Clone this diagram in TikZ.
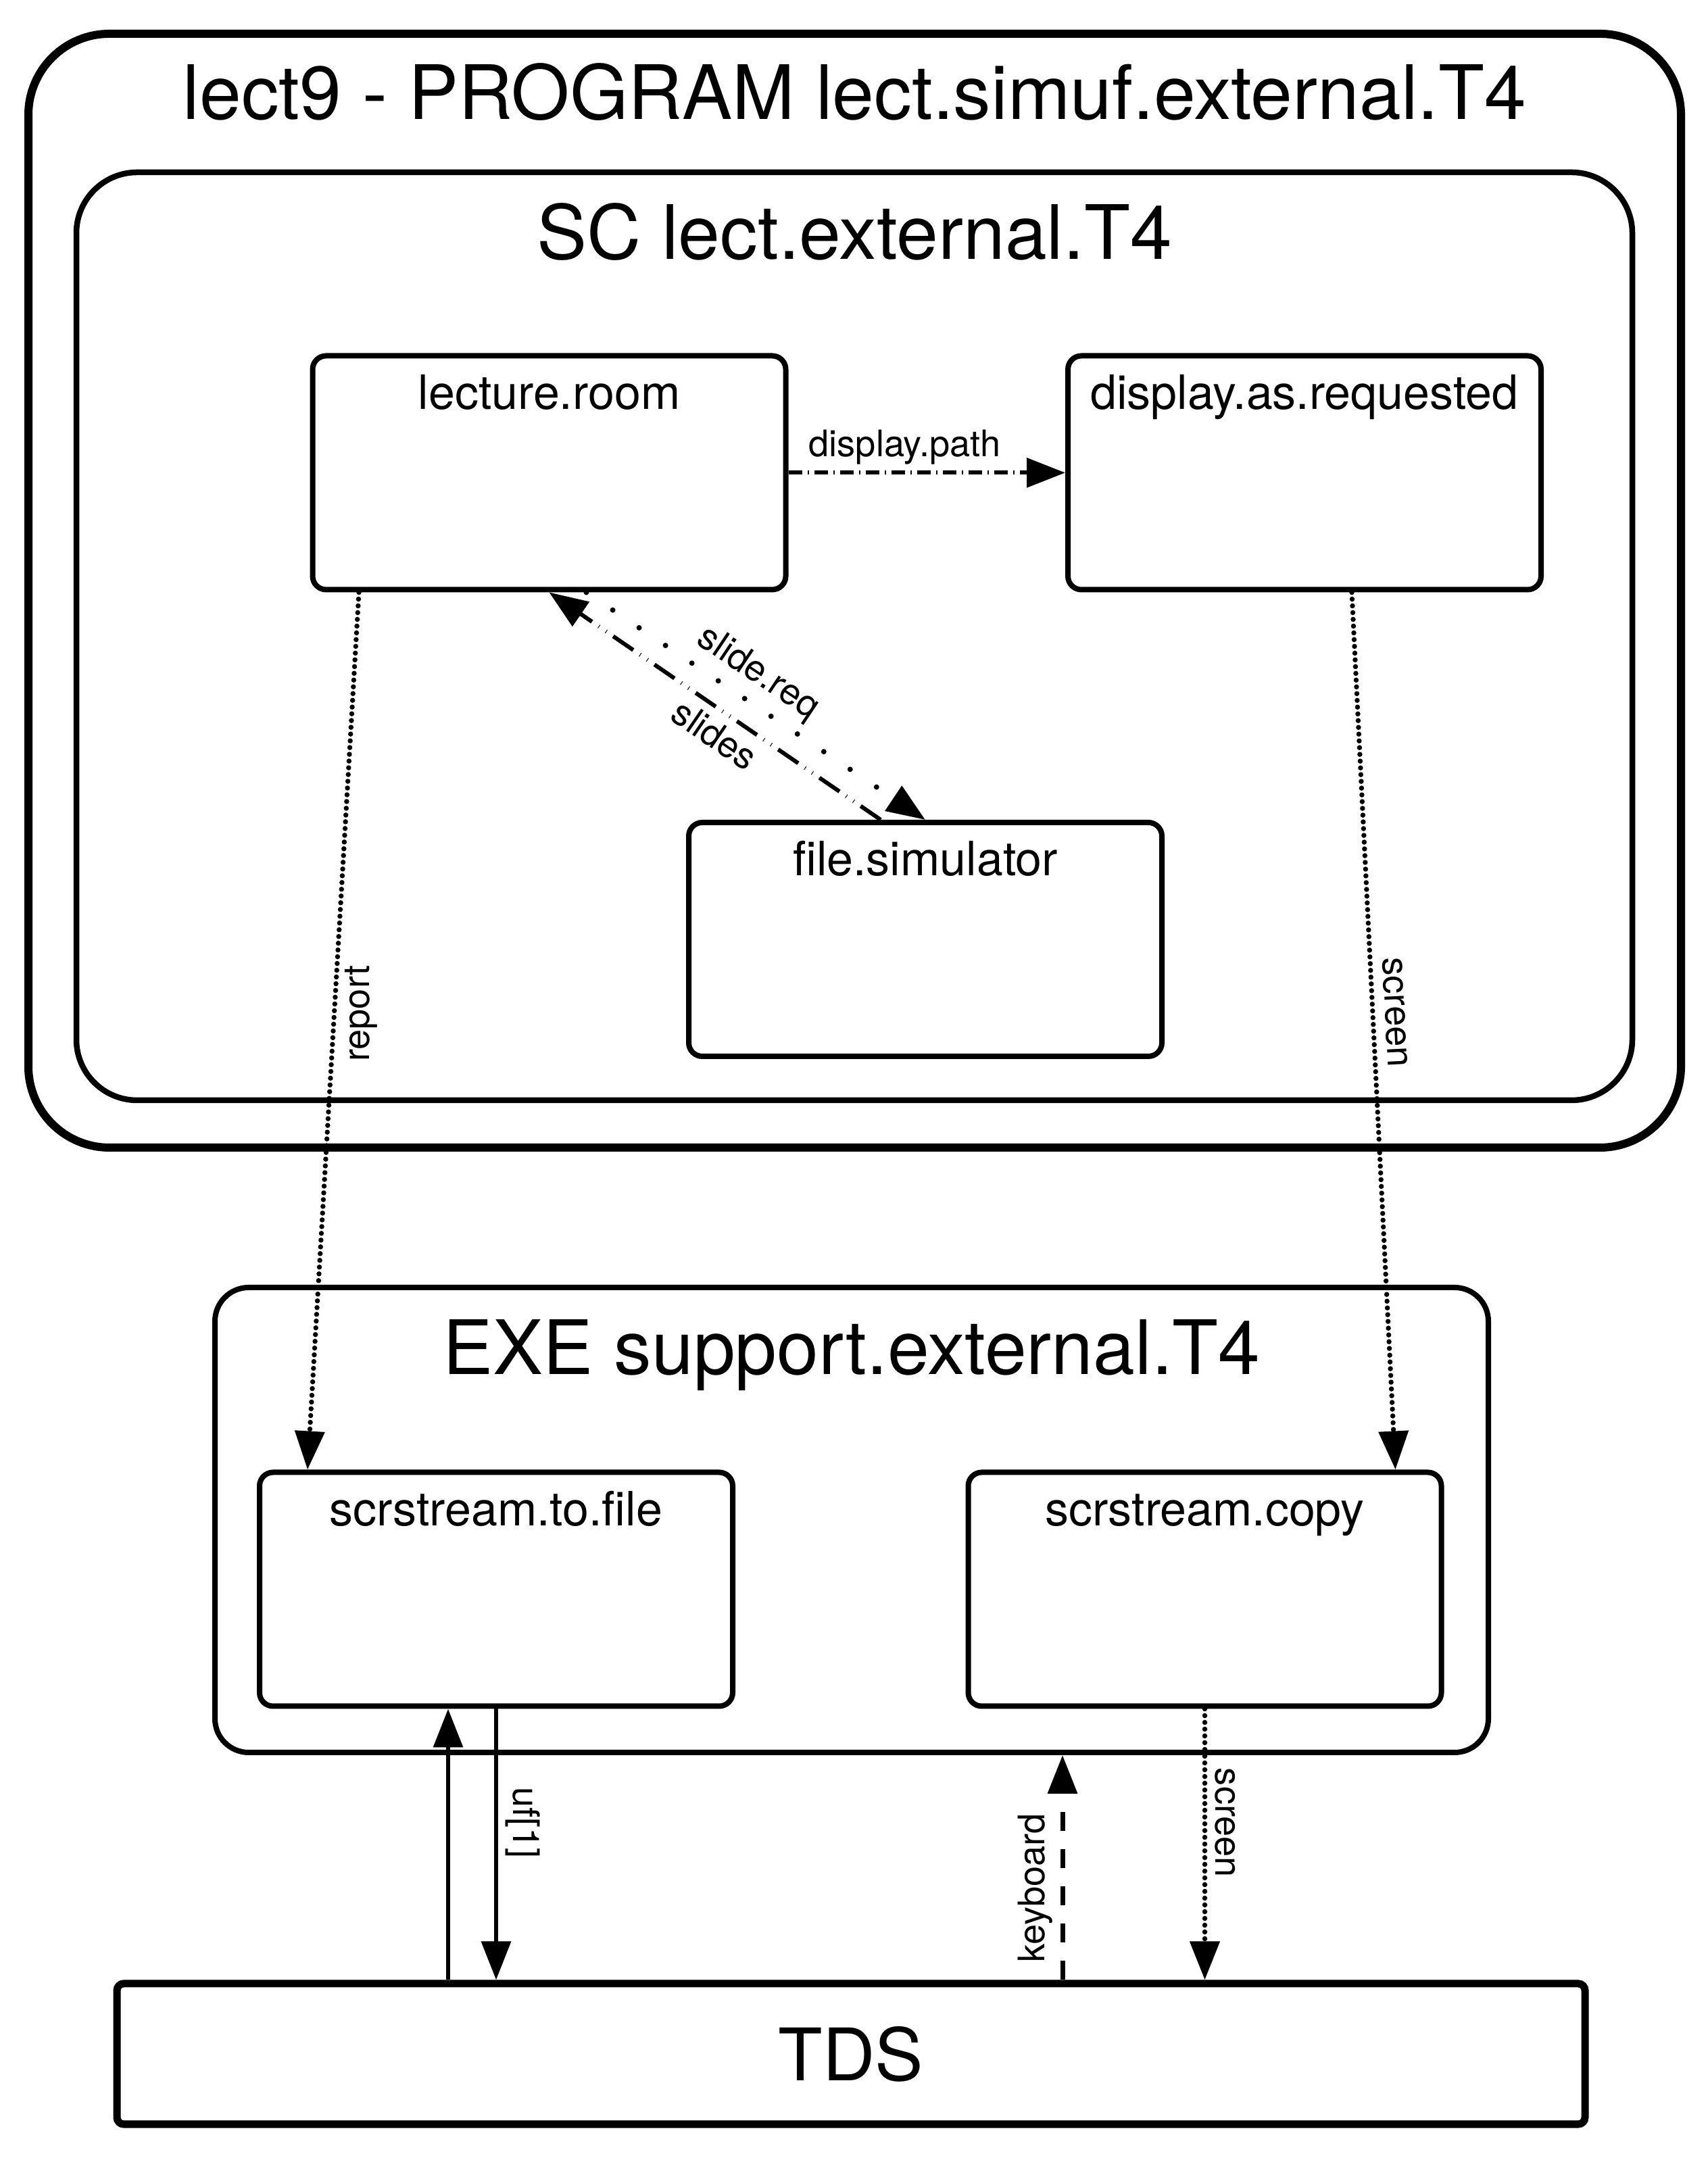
\documentclass[tikz,border=0pt]{standalone}
\usepackage{fontspec}
\setmainfont{TeX Gyre Heros}
\usetikzlibrary{arrows.meta}

\newcommand{\titlefont}{\fontsize{31.6}{36}\selectfont}
\newcommand{\tdsfont}{\fontsize{30.5}{36}\selectfont}
\newcommand{\boxfont}{\fontsize{19.9}{23}\selectfont}
\newcommand{\flowfont}{\fontsize{15.4}{18}\selectfont}

\begin{document}
\begin{tikzpicture}[
        >={Triangle[length=0.57cm,width=0.43cm]},
        procbox/.style={draw, line width=0.08cm, rounded corners=0.2cm,
            minimum width=7cm, minimum height=3.46cm,
            label={[anchor=base, yshift=-0.83cm, font=\boxfont]north:#1}},
        titled/.style={label={[anchor=base, yshift=-1.33cm, font=\titlefont]north:#1}},
        flowline/.style={line width=0.065cm},
        flowdots/.style={line width=0.075cm, line cap=round, dash pattern=on 0pt off 0.1cm},
        flowsparse/.style={line width=0.08cm, line cap=round, dash pattern=on 0pt off 0.47cm},
        flowdashdot/.style={line width=0.06cm, dash pattern=on 0.2cm off 0.08cm on 0.02cm off 0.08cm},
        flowdashdotdot/.style={line width=0.06cm, dash pattern=on 0.36cm off 0.12cm on 0.01cm off 0.12cm on 0.01cm off 0.12cm},
        flowdash/.style={line width=0.07cm, dash pattern=on 0.28cm off 0.27cm},
        flowlabel/.style={font=\flowfont}
    ]
        \useasboundingbox (0,0) rectangle (25.27,31.93);

        % Program frame
        \node[draw, line width=0.12cm, rounded corners=1.2cm, minimum width=24.45cm,
            minimum height=16.48cm, titled={lect9 - PROGRAM lect.simuf.external.T4}]
            (program) at (12.645,23.19) {};

        % SC frame
        \node[draw, line width=0.085cm, rounded corners=0.9cm, minimum width=23.02cm,
            minimum height=13.73cm, titled={SC lect.external.T4}] (sc) at (12.64,22.515) {};

        % EXE frame
        \node[draw, line width=0.08cm, rounded corners=0.5cm, minimum width=18.84cm,
            minimum height=6.88cm, titled={EXE support.external.T4}] (exe) at (12.60,9.44) {};

        % Activities
        \node[procbox=lecture.room] (lecture) at (8.125,24.935) {};
        \node[procbox=display.as.requested] (display) at (19.30,24.935) {};
        \node[procbox=file.simulator] (filesim) at (13.69,18.03) {};
        \node[procbox=scrstream.to.file] (tofile) at (7.34,8.415) {};
        \node[procbox=scrstream.copy] (copy) at (17.825,8.415) {};

        % TDS
        \node[draw, line width=0.11cm, rounded corners=0.1cm, minimum width=21.72cm,
            minimum height=2.08cm, font=\tdsfont] (tds) at (12.59,1.54) {TDS};

        % Flows inside SC
        \draw[flowdashdot, ->] (lecture.east) -- node[flowlabel, above, pos=0.42,
            inner sep=2.5pt] (lbl-path) {display.path} (display.west);
        \draw[flowdashdotdot, ->] ([xshift=-0.66cm]filesim.north) -- node[flowlabel,
            sloped, below, pos=0.46] (lbl-slides) {slides} (lecture.south);
        \draw[flowsparse, ->] ([xshift=0.55cm]lecture.south) -- node[flowlabel,
            sloped, above, pos=0.46] (lbl-req) {slide.req} (filesim.north);

        % Flows SC -> EXE
        \draw[flowdots, ->] ([xshift=-2.815cm]lecture.south) -- node[flowlabel,
            rotate=90, anchor=north, pos=0.48] (lbl-report) {report}
            ([xshift=-2.79cm]tofile.north);
        \draw[flowdots, ->] ([xshift=0.70cm]display.south) -- node[flowlabel,
            sloped, above, pos=0.48, inner sep=4pt] (lbl-screen) {screen}
            ([xshift=2.82cm]copy.north);

        % Flows EXE <-> TDS
        \coordinate (tofile-in) at ([xshift=-0.71cm]tofile.south);
        \coordinate (kbd-in) at ([xshift=-2.105cm]copy.south);
        \draw[flowline, ->] (tds.north -| tofile-in) -- (tofile-in);
        \draw[flowline, ->] (tofile.south) -- node[flowlabel, sloped, above, pos=0.42,
            inner sep=3pt] (lbl-uf) {uf[1]} (tofile.south |- tds.north);
        \draw[flowdash, ->] (tds.north -| kbd-in) -- node[flowlabel, sloped, above,
            pos=0.41] (lbl-kbd) {keyboard} (kbd-in |- exe.south);
        \draw[flowdots, ->] (copy.south) -- node[flowlabel, sloped, above,
            pos=0.42] (lbl-screen2) {screen} (copy.south |- tds.north);
    \end{tikzpicture}
\end{document}
